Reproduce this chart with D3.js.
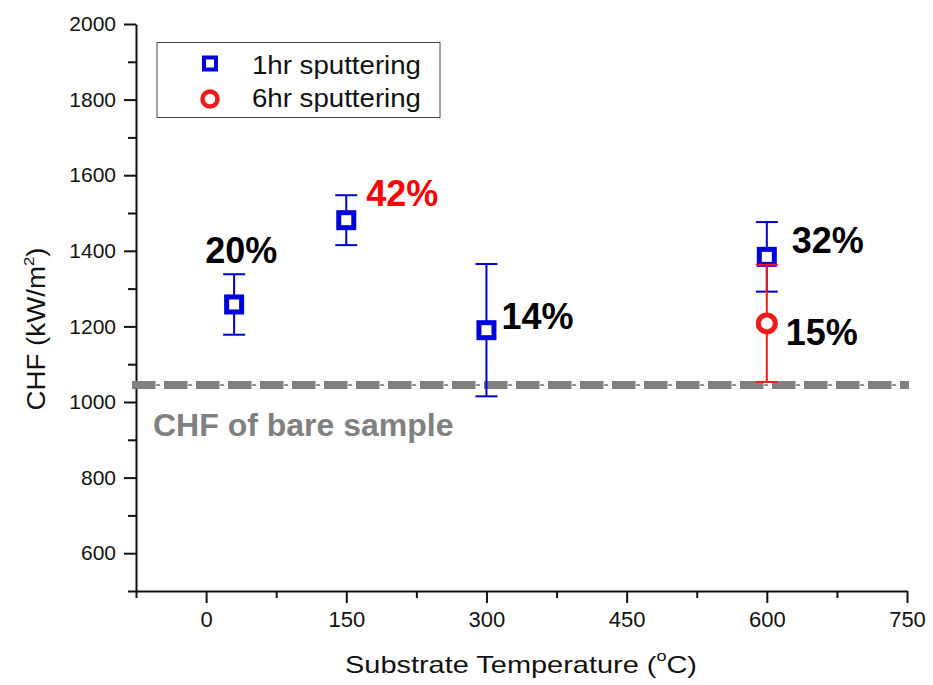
<!DOCTYPE html>
<html lang="en">
<head>
  <meta charset="UTF-8">
  <title>CHF vs Substrate Temperature</title>
  <style>
    body {
      margin: 0;
      background: #ffffff;
      font-family: "Liberation Sans", Arial, sans-serif;
    }
    .axis path, .axis line {
      stroke: #111111;
      stroke-width: 2;
    }
    .axis text {
      font-family: "Liberation Sans", Arial, sans-serif;
      font-size: 21px;
      fill: #111111;
    }
  </style>
</head>
<body>
  <svg id="chart"></svg>

  <script src="https://d3js.org/d3.v7.min.js"></script>
  <script>
    // data
    const temps1hr = [30, 150, 300, 600];
    const chf1hr = [1258, 1481, 1190, 1384];
    const err1hr = [80, 66, 175, 92];
    const pct1hr = ["20%", "42%", "14%", "32%"];
    const pctColor1hr = ["#000000", "#ff0000", "#000000", "#000000"];

    const temps6hr = [600];
    const chf6hr = [1208];
    const err6hr = [155];
    const pct6hr = ["15%"];

    const bareCHF = 1045;

    const xMajorTicks = [0, 150, 300, 450, 600, 750];
    const xMinorTicks = [-75, 75, 225, 375, 525, 675];
    const yMajorTicks = [600, 800, 1000, 1200, 1400, 1600, 1800, 2000];
    const yMinorTicks = [500, 700, 900, 1100, 1300, 1500, 1700, 1900];

    const width = 933;
    const height = 685;
    const blue = "#0000dd";
    const red = "#ee1c1c";

    const svg = d3.select("#chart").attr("width", width).attr("height", height);

    const x = d3.scaleLinear().domain([-75, 750]).range([136, 907]);
    const y = d3.scaleLinear().domain([500, 2000]).range([591, 24]);

    // axes
    svg.append("g")
      .attr("class", "axis")
      .attr("transform", `translate(0,${y(500)})`)
      .call(d3.axisBottom(x).tickValues(xMajorTicks).tickSize(12).tickSizeOuter(0).tickPadding(8).tickFormat(d3.format("d")))
      .call(g => g.selectAll("text").style("font-size", "22px"));

    svg.append("g")
      .attr("class", "axis")
      .attr("transform", `translate(0,${y(500)})`)
      .call(d3.axisBottom(x).tickValues(xMinorTicks).tickSize(7).tickSizeOuter(0).tickFormat(""))
      .call(g => g.select(".domain").remove());

    svg.append("g")
      .attr("class", "axis")
      .attr("transform", `translate(${x(-75)},0)`)
      .call(d3.axisLeft(y).tickValues(yMajorTicks).tickSize(12).tickSizeOuter(0).tickPadding(8).tickFormat(d3.format("d")));

    svg.append("g")
      .attr("class", "axis")
      .attr("transform", `translate(${x(-75)},0)`)
      .call(d3.axisLeft(y).tickValues(yMinorTicks).tickSize(8).tickSizeOuter(0).tickFormat(""))
      .call(g => g.select(".domain").remove());

    // axis titles
    const xTitle = svg.append("text")
      .attr("x", 521)
      .attr("y", 673)
      .attr("text-anchor", "middle")
      .attr("textLength", 352)
      .attr("lengthAdjust", "spacingAndGlyphs")
      .style("font-size", "24px")
      .style("fill", "#111");
    xTitle.append("tspan").text("Substrate Temperature (");
    xTitle.append("tspan").attr("dy", -12).style("font-size", "15px").text("o");
    xTitle.append("tspan").attr("dy", 12).text("C)");

    const yTitle = svg.append("text")
      .attr("transform", "translate(45,329) rotate(-90)")
      .attr("text-anchor", "middle")
      .attr("textLength", 163)
      .attr("lengthAdjust", "spacingAndGlyphs")
      .style("font-size", "25px")
      .style("fill", "#111");
    yTitle.append("tspan").text("CHF (kW/m");
    yTitle.append("tspan").attr("dy", -11).style("font-size", "15px").text("2");
    yTitle.append("tspan").attr("dy", 11).text(")");

    // bare sample reference line
    svg.append("line")
      .attr("x1", 132).attr("x2", 909)
      .attr("y1", y(bareCHF)).attr("y2", y(bareCHF))
      .attr("stroke", "#333")
      .attr("stroke-width", 1)
      .attr("stroke-dasharray", "4,4");

    svg.append("line")
      .attr("x1", 132).attr("x2", 909)
      .attr("y1", y(bareCHF)).attr("y2", y(bareCHF))
      .attr("stroke", "#808080")
      .attr("stroke-width", 8)
      .attr("stroke-dasharray", "23.5,8.5");

    svg.append("text")
      .attr("x", 153)
      .attr("y", 436)
      .style("font-size", "32px")
      .style("font-weight", "bold")
      .style("fill", "#808080")
      .text("CHF of bare sample");

    // error bars
    function drawErrors(temps, vals, errs, color, sw) {
      const g = svg.append("g").attr("stroke", color).attr("stroke-width", sw);
      temps.forEach((t, i) => {
        const cx = x(t);
        const top = y(vals[i] + errs[i]);
        const bot = y(vals[i] - errs[i]);
        g.append("line").attr("x1", cx).attr("x2", cx).attr("y1", top).attr("y2", bot);
        g.append("line").attr("x1", cx - 11).attr("x2", cx + 11).attr("y1", top).attr("y2", top);
        g.append("line").attr("x1", cx - 11).attr("x2", cx + 11).attr("y1", bot).attr("y2", bot);
      });
    }

    drawErrors(temps1hr, chf1hr, err1hr, "#0000cc", 2);

    svg.append("g").selectAll("rect")
      .data(temps1hr)
      .enter().append("rect")
      .attr("x", d => x(d) - 7.5)
      .attr("y", (d, i) => y(chf1hr[i]) - 7.5)
      .attr("width", 15)
      .attr("height", 15)
      .attr("fill", "#fff")
      .attr("stroke", blue)
      .attr("stroke-width", 5);

    drawErrors(temps6hr, chf6hr, err6hr, red, 2);

    svg.append("g").selectAll("circle")
      .data(temps6hr)
      .enter().append("circle")
      .attr("cx", d => x(d))
      .attr("cy", (d, i) => y(chf6hr[i]))
      .attr("r", 8.5)
      .attr("fill", "#fff")
      .attr("stroke", red)
      .attr("stroke-width", 5);

    // percentage labels, offsets from their point
    const off1hr = [[-29, -41], [20, -14], [15, -1], [25, -4]];
    const off6hr = [[19, 22]];

    svg.append("g").selectAll("text")
      .data(pct1hr)
      .enter().append("text")
      .attr("x", (d, i) => x(temps1hr[i]) + off1hr[i][0])
      .attr("y", (d, i) => y(chf1hr[i]) + off1hr[i][1])
      .style("font-size", "36px")
      .style("font-weight", "bold")
      .style("fill", (d, i) => pctColor1hr[i])
      .text(d => d);

    svg.append("g").selectAll("text")
      .data(pct6hr)
      .enter().append("text")
      .attr("x", (d, i) => x(temps6hr[i]) + off6hr[i][0])
      .attr("y", (d, i) => y(chf6hr[i]) + off6hr[i][1])
      .style("font-size", "36px")
      .style("font-weight", "bold")
      .style("fill", "#000")
      .text(d => d);

    // legend
    const legend = svg.append("g");
    legend.append("rect")
      .attr("x", 157).attr("y", 42.5)
      .attr("width", 283).attr("height", 75)
      .attr("fill", "#fff")
      .attr("stroke", "#444")
      .attr("stroke-width", 1);

    legend.append("rect")
      .attr("x", 210 - 6).attr("y", 63.5 - 6)
      .attr("width", 12).attr("height", 12)
      .attr("fill", "#fff")
      .attr("stroke", blue)
      .attr("stroke-width", 4);

    legend.append("circle")
      .attr("cx", 210).attr("cy", 99)
      .attr("r", 7.5)
      .attr("fill", "#fff")
      .attr("stroke", red)
      .attr("stroke-width", 4.5);

    legend.append("text")
      .attr("x", 252).attr("y", 73.5)
      .attr("textLength", 169)
      .attr("lengthAdjust", "spacingAndGlyphs")
      .style("font-size", "25px")
      .style("fill", "#111")
      .text("1hr sputtering");

    legend.append("text")
      .attr("x", 252).attr("y", 107)
      .attr("textLength", 169)
      .attr("lengthAdjust", "spacingAndGlyphs")
      .style("font-size", "25px")
      .style("fill", "#111")
      .text("6hr sputtering");
  </script>
</body>
</html>
